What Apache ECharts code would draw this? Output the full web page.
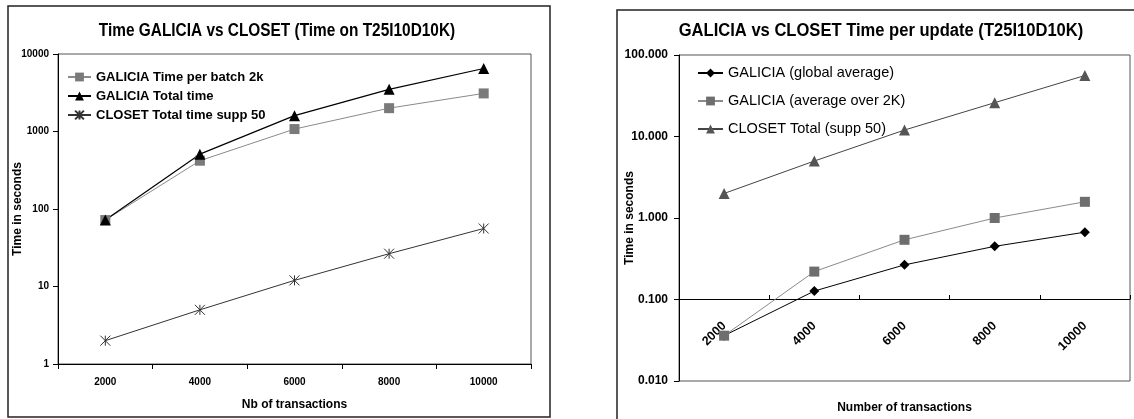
<!DOCTYPE html>
<html>
<head>
<meta charset="utf-8">
<script src="https://cdn.jsdelivr.net/npm/echarts@6/dist/echarts.min.js"></script>
<style>
html,body{margin:0;padding:0;background:#fff;}
#c{width:1134px;height:419px;}
</style>
</head>
<body>
<div id="c"></div>
<script>
// ---- data ----
var categories = ['2000', '4000', '6000', '8000', '10000'];
// left chart (seconds)
var leftBatch2k = [72, 420, 1075, 2000, 3100];
var leftTotal = [72, 510, 1600, 3500, 6500];
var leftCloset = [2, 5, 12, 26.5, 56];
// right chart (seconds per update)
var rightGlobal = [0.036, 0.127, 0.266, 0.449, 0.67];
var rightAvg2k = [0.036, 0.22, 0.54, 1.0, 1.58];
var rightCloset = [2.0, 5.0, 12, 26, 56];

var FONT = "'Liberation Sans', Arial, sans-serif";
var STAR = 'path://M0,0L10,10M10,0L0,10M5,0L5,10';

var chart = echarts.init(document.getElementById('c'), null, {renderer: 'canvas'});
var option = {
  backgroundColor: '#fff',
  animation: false,
  textStyle: {fontFamily: FONT},
  graphic: [
    {type: 'rect', shape: {x: 8, y: 6, width: 542, height: 411}, style: {fill: 'none', stroke: '#222', lineWidth: 1.5}, silent: true},
    {type: 'rect', shape: {x: 617, y: 10, width: 540, height: 430}, style: {fill: 'none', stroke: '#222', lineWidth: 1.5}, silent: true},
    {type: 'text', x: 277, y: 31, scaleX: 0.88, style: {text: 'Time GALICIA vs CLOSET (Time on T25I10D10K)', font: 'bold 17.5px ' + FONT, fill: '#000', align: 'center', verticalAlign: 'middle'}},
    {type: 'text', x: 881, y: 31, scaleX: 0.92, style: {text: 'GALICIA vs CLOSET Time per update (T25I10D10K)', font: 'bold 18px ' + FONT, fill: '#000', align: 'center', verticalAlign: 'middle'}}
  ],
  legend: [
    {
      orient: 'vertical', left: 62, top: 65, itemWidth: 23, itemHeight: 11, itemGap: 5,
      textStyle: {fontFamily: FONT, fontSize: 13, fontWeight: 'bold', color: '#000', lineHeight: 14},
      data: ['GALICIA Time per batch 2k', 'GALICIA Total time', 'CLOSET Total time supp 50']
    },
    {
      orient: 'vertical', left: 692, top: 60, itemWidth: 25, itemHeight: 11, itemGap: 12,
      textStyle: {fontFamily: FONT, fontSize: 14.5, color: '#000', lineHeight: 16},
      data: ['GALICIA (global average)', 'GALICIA (average over 2K)', 'CLOSET Total (supp 50)']
    }
  ],
  grid: [
    {left: 58, right: 603, top: 54, bottom: 55, show: true, borderColor: '#555', borderWidth: 1, backgroundColor: 'transparent'},
    {left: 679, right: 4, top: 55, bottom: 36, show: true, borderColor: '#555', borderWidth: 1, backgroundColor: 'transparent'}
  ],
  xAxis: [
    {
      gridIndex: 0, type: 'category', data: categories, boundaryGap: true,
      name: 'Nb of transactions', nameLocation: 'middle', nameGap: 35, nameMoveOverlap: false,
      nameTextStyle: {fontFamily: FONT, fontSize: 12, fontWeight: 'bold', color: '#000'},
      axisLine: {lineStyle: {color: '#000', width: 1}},
      axisTick: {show: true, length: 5, lineStyle: {color: '#000'}},
      axisLabel: {fontFamily: FONT, fontSize: 10, fontWeight: 'bold', color: '#000', margin: 13},
      splitLine: {show: false}
    },
    {
      gridIndex: 1, type: 'category', data: categories, boundaryGap: true, offset: -82,
      name: 'Number of transactions', nameLocation: 'middle', nameGap: 103, nameMoveOverlap: false,
      nameTextStyle: {fontFamily: FONT, fontSize: 12, fontWeight: 'bold', color: '#000'},
      axisLine: {lineStyle: {color: '#000', width: 1}},
      axisTick: {show: true, inside: true, length: 4, lineStyle: {color: '#000'}},
      axisLabel: {fontFamily: FONT, fontSize: 12.5, fontWeight: 'bold', color: '#000', rotate: 45, margin: 25},
      splitLine: {show: false}
    }
  ],
  yAxis: [
    {
      gridIndex: 0, type: 'log', logBase: 10, min: 1, max: 10000,
      name: 'Time in seconds', nameLocation: 'middle', nameGap: 34, nameMoveOverlap: false,
      nameTextStyle: {fontFamily: FONT, fontSize: 12, fontWeight: 'bold', color: '#000'},
      axisLine: {show: true, lineStyle: {color: '#000', width: 1}},
      axisTick: {show: true, length: 5, lineStyle: {color: '#000'}},
      axisLabel: {fontFamily: FONT, fontSize: 10, fontWeight: 'bold', color: '#000', margin: 9,
        formatter: function (v) { return String(Math.round(v)); }},
      splitLine: {show: false}
    },
    {
      gridIndex: 1, type: 'log', logBase: 10, min: 0.01, max: 100,
      name: 'Time in seconds', nameLocation: 'middle', nameGap: 43, nameMoveOverlap: false,
      nameTextStyle: {fontFamily: FONT, fontSize: 12, fontWeight: 'bold', color: '#000'},
      axisLine: {show: true, lineStyle: {color: '#000', width: 1}},
      axisTick: {show: true, length: 5, lineStyle: {color: '#000'}},
      axisLabel: {fontFamily: FONT, fontSize: 12, fontWeight: 'bold', color: '#000', margin: 11,
        formatter: function (v) { return Number(v).toFixed(3); }},
      splitLine: {show: false}
    }
  ],
  series: [
    {
      name: 'GALICIA Time per batch 2k', type: 'line', xAxisIndex: 0, yAxisIndex: 0, data: leftBatch2k,
      symbol: 'rect', symbolSize: 10, lineStyle: {color: '#8a8a8a', width: 1},
      itemStyle: {color: '#7a7a7a'}
    },
    {
      name: 'GALICIA Total time', type: 'line', xAxisIndex: 0, yAxisIndex: 0, data: leftTotal,
      symbol: 'triangle', symbolSize: 11, lineStyle: {color: '#000', width: 1.2},
      itemStyle: {color: '#000'}
    },
    {
      name: 'CLOSET Total time supp 50', type: 'line', xAxisIndex: 0, yAxisIndex: 0, data: leftCloset,
      symbol: STAR, symbolSize: 10, lineStyle: {color: '#333', width: 1},
      itemStyle: {color: 'none', borderColor: '#333', borderWidth: 1}
    },
    {
      name: 'GALICIA (global average)', type: 'line', xAxisIndex: 1, yAxisIndex: 1, data: rightGlobal,
      symbol: 'diamond', symbolSize: 10, lineStyle: {color: '#000', width: 1},
      itemStyle: {color: '#000'}
    },
    {
      name: 'GALICIA (average over 2K)', type: 'line', xAxisIndex: 1, yAxisIndex: 1, data: rightAvg2k,
      symbol: 'rect', symbolSize: 10, lineStyle: {color: '#8a8a8a', width: 1},
      itemStyle: {color: '#6e6e6e'}
    },
    {
      name: 'CLOSET Total (supp 50)', type: 'line', xAxisIndex: 1, yAxisIndex: 1, data: rightCloset,
      symbol: 'triangle', symbolSize: 11, lineStyle: {color: '#444', width: 1},
      itemStyle: {color: '#555'}
    }
  ]
};
chart.setOption(option);
</script>
</body>
</html>
